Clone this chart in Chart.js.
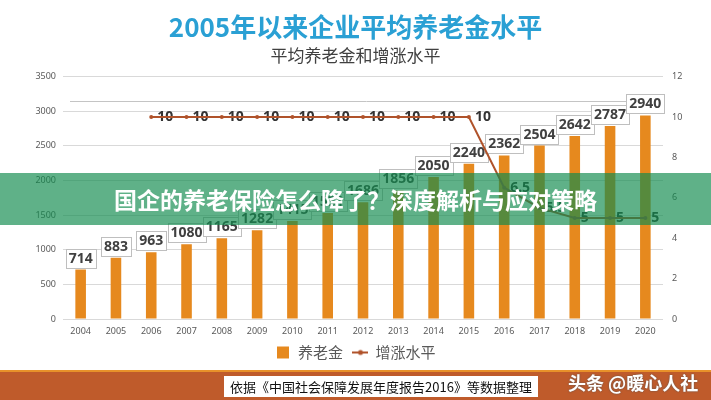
<!DOCTYPE html>
<html>
<head>
<meta charset="utf-8">
<script src="https://cdn.jsdelivr.net/npm/chart.js@4.4.0/dist/chart.umd.min.js"></script>
<style>
  body { margin: 0; background: #fff; }
  #wrap { position: relative; width: 711px; height: 400px; overflow: hidden; font-family: "Noto Sans CJK SC", sans-serif; }
  #chartBox { position: absolute; left: 0; top: 0; width: 711px; height: 370px; }
  #banner {
    position: absolute; left: 0; top: 173px; width: 711px; height: 52px;
    background: rgba(16, 138, 78, 0.67); color: #fff;
    font-weight: bold; font-size: 23px; line-height: 52px; text-align: center;
  }
  #band { position: absolute; left: 0; top: 370px; width: 711px; height: 30px; background: #bf5b2b; border-top: 2px solid #e8912a; }
  #source {
    position: absolute; left: 224px; top: 376px; width: 314px; height: 21px;
    background: #fff; color: #111; font-size: 13px; line-height: 21px; text-align: center;
  }
  #mark { position: absolute; left: 568px; top: 369px; color: #fff; font-size: 18px; font-weight: bold; text-shadow: 0 0 2px #555; }
</style>
</head>
<body>
<div id="wrap">
  <div id="chartBox"><canvas id="grafico"></canvas></div>
  <div id="banner">国企的养老保险怎么降了？深度解析与应对策略</div>
  <div id="band"></div>
  <div id="source">依据《中国社会保障发展年度报告2016》等数据整理</div>
  <div id="mark">头条 @暖心人社</div>
</div>
<script>
const anos = ["2004", "2005", "2006", "2007", "2008", "2009", "2010", "2011", "2012",
  "2013", "2014", "2015", "2016", "2017", "2018", "2019", "2020"];
const pensao = [714, 883, 963, 1080, 1165, 1282, 1415, 1531, 1686, 1856, 2050, 2240, 2362, 2504, 2642, 2787, 2940];
const aumento = [null, null, 10, 10, 10, 10, 10, 10, 10, 10, 10, 10, 6.5, 5.5, 5, 5, 5];

const corBarra = "#e6891e";
const corLinha = "#b0532b";

// ícone da legenda para a linha (traço com ponto)
const iconeLinha = document.createElement("canvas");
iconeLinha.width = 16; iconeLinha.height = 8;
(function () {
  const c = iconeLinha.getContext("2d");
  c.strokeStyle = corLinha; c.lineWidth = 2;
  c.beginPath(); c.moveTo(0, 4); c.lineTo(16, 4); c.stroke();
  c.fillStyle = corLinha;
  c.beginPath(); c.arc(8, 4, 2.5, 0, Math.PI * 2); c.fill();
})();

const rotulos = {
  id: "rotulos",
  afterInit(chart) {
    // legenda mais baixa: corta parte do espaço de baixo
    const lg = chart.legend;
    if (!lg) return;
    const fit0 = lg.fit.bind(lg);
    lg.fit = function () { fit0(); this.height = Math.max(0, this.height - 5); };
  },
  beforeDatasetsDraw(chart) {
    const ctx = chart.ctx;
    ctx.save();
    ctx.strokeStyle = "#c4c4c4";
    ctx.lineWidth = 1;
    ctx.beginPath(); ctx.moveTo(70, 101.5); ctx.lineTo(chart.chartArea.right, 101.5); ctx.stroke();
    ctx.restore();
  },
  afterDatasetDraw(chart, args) {
    const ctx = chart.ctx;
    ctx.save();
    if (args.index === 0) {
      ctx.font = 'bold 14px "Noto Sans", sans-serif';
      ctx.textAlign = "center";
      ctx.textBaseline = "middle";
      args.meta.data.forEach((bar, i) => {
        const txt = String(pensao[i]);
        const w = Math.round(ctx.measureText(txt).width) + 6;
        const h = 19;
        const x = Math.round(bar.x - w / 2), y = Math.round(bar.y - 2 - h);
        ctx.fillStyle = "#fff";
        ctx.fillRect(x, y, w, h);
        ctx.strokeStyle = "#bfbfbf";
        ctx.lineWidth = 1;
        ctx.strokeRect(x + 0.5, y + 0.5, w, h);
        ctx.fillStyle = "#404040";
        ctx.fillText(txt, bar.x, y + h / 2 + 1);
      });
    }
    ctx.restore();
  },
  beforeDatasetDraw(chart, args) {
    if (args.index !== 1) return;
    const ctx = chart.ctx;
    ctx.save();
    ctx.font = 'bold 14px "Noto Sans", sans-serif';
    ctx.textAlign = "left";
    ctx.textBaseline = "middle";
    ctx.fillStyle = "#333";
    args.meta.data.forEach((pt, i) => {
      if (aumento[i] === null) return;
      ctx.fillText(String(aumento[i]), pt.x + 6, pt.y);
    });
    ctx.restore();
  }
};

const ctx = document.getElementById("grafico").getContext("2d");
new Chart(ctx, {
  type: "bar",
  data: {
    labels: anos,
    datasets: [{
      label: "养老金",
      data: pensao,
      backgroundColor: corBarra,
      barPercentage: 0.3,
      categoryPercentage: 1,
      yAxisID: "y",
      order: 1
    }, {
      type: "line",
      label: "增涨水平",
      data: aumento,
      borderColor: corLinha,
      backgroundColor: corLinha,
      borderWidth: 2,
      pointRadius: 2,
      pointBorderWidth: 0,
      tension: 0,
      yAxisID: "y1",
      order: 0
    }]
  },
  plugins: [rotulos],
  options: {
    responsive: true,
    maintainAspectRatio: false,
    animation: false,
    layout: { padding: { left: 0, right: 0, top: 0, bottom: 5 } },
    scales: {
      x: {
        grid: { display: false, drawTicks: false },
        border: { display: false },
        ticks: { padding: 7, color: "#595959", font: { size: 9, family: "Noto Sans" } },
        afterFit(s) { s.height = 16; }
      },
      y: {
        position: "left",
        min: 0, max: 3500,
        ticks: { stepSize: 500, padding: 7, color: "#595959", font: { size: 9, family: "Noto Sans" }, callback: v => String(v) },
        grid: { color: "#d9d9d9", drawTicks: false },
        border: { display: false },
        afterFit(s) { s.width = 63; }
      },
      y1: {
        position: "right",
        min: 0, max: 12,
        ticks: { stepSize: 2, padding: 9, color: "#595959", font: { size: 9, family: "Noto Sans" }, callback: v => String(v) },
        grid: { display: false, drawTicks: false },
        border: { display: false },
        afterFit(s) { s.width = 48; }
      }
    },
    plugins: {
      tooltip: { enabled: false },
      title: {
        display: true,
        text: "2005年以来企业平均养老金水平",
        color: "#2aa0d4",
        font: { size: 26, weight: "bold", family: "Noto Sans CJK SC" },
        padding: { top: 12, bottom: 2 }
      },
      subtitle: {
        display: true,
        text: "平均养老金和增涨水平",
        color: "#404040",
        font: { size: 17, family: "Noto Sans CJK SC" },
        padding: { top: 0, bottom: 11 }
      },
      legend: {
        position: "bottom",
        labels: {
          usePointStyle: true,
          boxHeight: 12,
          padding: 10,
          color: "#595959",
          font: { size: 15, family: "Noto Sans CJK SC" },
          sort: (a, b) => a.datasetIndex - b.datasetIndex,
          generateLabels(chart) {
            const itens = Chart.defaults.plugins.legend.labels.generateLabels(chart);
            itens.forEach(it => {
              it.pointStyle = it.datasetIndex === 1 ? iconeLinha : "rect";
              it.lineWidth = 0;
            });
            return itens;
          }
        }
      }
    }
  }
});
</script>
</body>
</html>
